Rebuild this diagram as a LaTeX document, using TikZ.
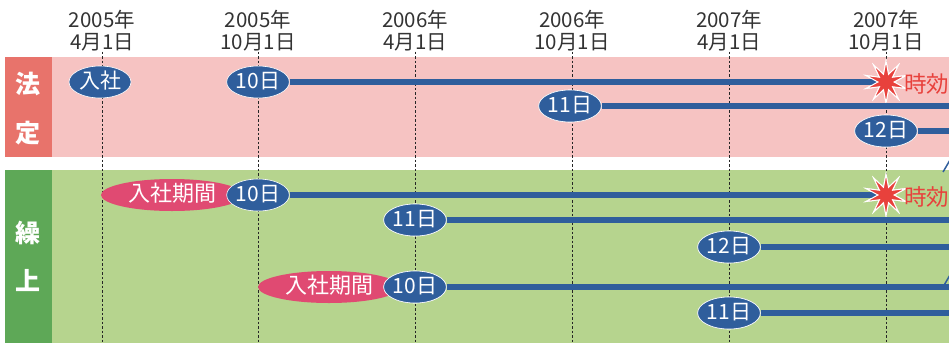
\documentclass[tikz,border=0pt]{standalone}
\usepackage{fontspec}
\newfontfamily\cjk{Noto Sans CJK JP}
\usetikzlibrary{shapes.geometric}
\definecolor{bblue}{HTML}{2F5E9C}
\definecolor{pinkbg}{HTML}{F6C3C2}
\definecolor{pinklab}{HTML}{E8736B}
\definecolor{greenbg}{HTML}{B6D48E}
\definecolor{greenlab}{HTML}{5EA857}
\definecolor{magentax}{HTML}{E04A72}
\definecolor{redstar}{HTML}{E8413C}
\tikzset{
  datelbl/.style={font=\cjk\fontsize{20.5}{22}\selectfont, text=black!80, align=center, inner sep=0pt},
  dayell/.style={ellipse, fill=bblue, draw=white, line width=0.6pt, minimum width=62pt, minimum height=32pt, inner sep=0pt, text=white, font=\cjk\fontsize{21}{21}\selectfont, text height=14pt, text depth=1pt},
  periodell/.style={ellipse, fill=magentax, minimum width=142pt, minimum height=32pt, inner sep=0pt, text=white, font=\cjk\fontsize{22}{22}\selectfont, text height=14pt, text depth=1pt},
  bandlbl/.style={text=white, font=\cjk\bfseries\fontsize{25}{25}\selectfont, inner sep=0pt},
  gridline/.style={dash pattern=on 2.5pt off 2pt, line width=0.9pt, black!85},
  tline/.style={bblue, line width=5.5pt},
  starsh/.style={star, star points=10, star point ratio=2.6, fill=redstar, draw=white, line width=1pt, minimum size=42pt, inner sep=0pt},
  jikou/.style={text=redstar, font=\cjk\fontsize{22.5}{22.5}\selectfont, anchor=west, inner sep=0pt},
  tipline/.style={bblue, line width=1.5pt}
}
\begin{document}
\begin{tikzpicture}[x=1pt,y=-1pt]
\useasboundingbox (0,0) rectangle (949,343);
\clip (0,0) rectangle (949,343);
% bands
\fill[pinkbg] (52,57) rectangle (949,157);
\fill[pinklab] (5,57) rectangle (52,157);
\fill[greenbg] (52,170) rectangle (949,343);
\fill[greenlab] (5,170) rectangle (52,343);
\node[bandlbl] (l1) at (28.5,84) {法};
\node[bandlbl] (l2) at (28.5,133) {定};
\node[bandlbl] (l3) at (28.5,233) {繰};
\node[bandlbl] (l4) at (28.5,281) {上};
% date labels
\node[datelbl] (c1) at (102,31) {2005年\\4月1日};
\node[datelbl] (c2) at (258,31) {2005年\\10月1日};
\node[datelbl] (c3) at (415,31) {2006年\\4月1日};
\node[datelbl] (c4) at (572,31) {2006年\\10月1日};
\node[datelbl] (c5) at (729,31) {2007年\\4月1日};
\node[datelbl] (c6) at (886,31) {2007年\\10月1日};
\coordinate (b1) at (102,343);
\coordinate (b2) at (258,343);
\coordinate (b3) at (415,343);
\coordinate (b4) at (572,343);
\coordinate (b5) at (729,343);
\coordinate (b6) at (886,343);
\draw[gridline] (c1.south) -- (b1);
\draw[gridline] (c2.south) -- (b2);
\draw[gridline] (c3.south) -- (b3);
\draw[gridline] (c4.south) -- (b4);
\draw[gridline] (c5.south) -- (b5);
\draw[gridline] (c6.south) -- (b6);
% right edge coordinates
\coordinate (e1) at (949,106);
\coordinate (e2) at (949,131);
\coordinate (e3) at (949,220);
\coordinate (e4) at (949,247);
\coordinate (e5) at (949,287);
\coordinate (e6) at (949,313);
% pink rows
\node[dayell] (nyusha) at (100,82) {入社};
\node[dayell] (p10) at (258,82) {10日};
\node[starsh] (s1) at (886,82) {};
\draw[tline] (p10.east) -- (s1.center);
\node[starsh] at (886,82) {};
\node[jikou] (j1) at (904,84) {時効};
\node[dayell] (p11) at (570,106) {11日};
\draw[tline] (p11.east) -- (e1);
\node[dayell] at (570,106) {11日};
\node[dayell] (p12) at (886,131) {12日};
\draw[tline] (p12.east) -- (e2);
\node[dayell] at (886,131) {12日};
% green rows
\node[periodell] (k1) at (172,195) {入社期間\hspace{34pt}};
\node[dayell] (g10) at (258,195) {10日};
\node[starsh] (s2) at (886,195) {};
\draw[tline] (g10.east) -- (s2.center);
\node[starsh] at (886,195) {};
\node[jikou] (j2) at (904,197) {時効};
\node[dayell] (g11) at (415,220) {11日};
\draw[tline] (g11.east) -- (e3);
\node[dayell] at (415,220) {11日};
\node[dayell] (g12) at (729,247) {12日};
\draw[tline] (g12.east) -- (e4);
\node[dayell] at (729,247) {12日};
\node[periodell] (k2) at (329,287) {入社期間\hspace{34pt}};
\node[dayell] (h10) at (415,287) {10日};
\draw[tline] (h10.east) -- (e5);
\node[dayell] at (415,287) {10日};
\node[dayell] (h11) at (729,313) {11日};
\draw[tline] (h11.east) -- (e6);
\node[dayell] at (729,313) {11日};
% arrow fragments at the right edge
\coordinate (t1a) at (943,172);
\coordinate (t1b) at (950,160);
\coordinate (t2a) at (943,287);
\coordinate (t2b) at (950,275);
\draw[tipline] (t1a) -- (t1b);
\draw[tipline] (t2a) -- (t2b);
\end{tikzpicture}
\end{document}
